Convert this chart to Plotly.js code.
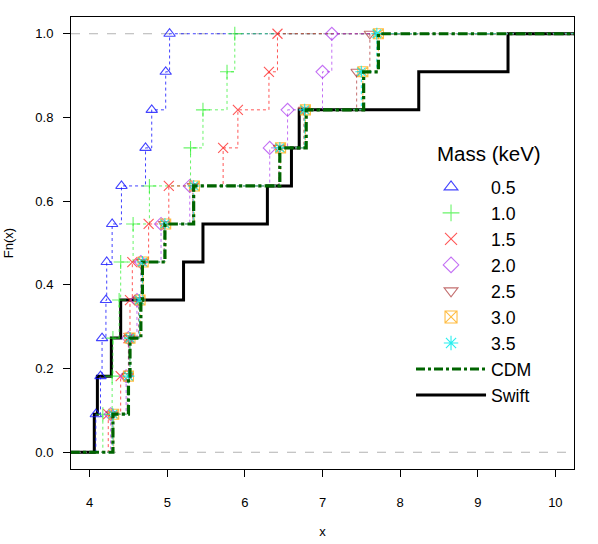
<!DOCTYPE html>
<html>
<head>
<meta charset="utf-8">
<script src="https://cdn.plot.ly/plotly-3.0.1.min.js"></script>
<style>html,body{margin:0;padding:0;background:#fff;}#chart{width:598px;height:544px;}</style>
</head>
<body>
<div id="chart"></div>
<script>
// ---- data (sample values) ----
const massLabels = ["0.5", "1.0", "1.5", "2.0", "2.5", "3.0", "3.5"];
const mass05 = [4.08, 4.14, 4.16, 4.21, 4.22, 4.29, 4.41, 4.72, 4.80, 4.98, 5.03];
const mass10 = [4.17, 4.29, 4.30, 4.38, 4.40, 4.56, 4.77, 5.30, 5.46, 5.77, 5.87];
const mass15 = [4.24, 4.40, 4.50, 4.52, 4.55, 4.76, 5.02, 5.72, 5.91, 6.31, 6.42];
const mass20 = [4.27, 4.47, 4.50, 4.61, 4.66, 4.92, 5.29, 6.32, 6.55, 7.00, 7.12];
const mass25 = [4.29, 4.49, 4.51, 4.63, 4.68, 4.96, 5.33, 6.44, 6.76, 7.44, 7.61];
const mass30 = [4.31, 4.50, 4.52, 4.65, 4.69, 4.98, 5.35, 6.46, 6.78, 7.52, 7.72];
const mass35 = [4.30, 4.50, 4.52, 4.64, 4.68, 4.97, 5.34, 6.45, 6.77, 7.50, 7.70];
const cdm    = [4.30, 4.50, 4.52, 4.66, 4.68, 4.97, 5.34, 6.45, 6.79, 7.53, 7.72];
const swift  = [4.06, 4.10, 4.28, 4.40, 5.21, 5.46, 6.29, 6.60, 6.70, 8.24, 9.39];
const xTicks = [4, 5, 6, 7, 8, 9, 10];
const yTicks = [0, 0.2, 0.4, 0.6, 0.8, 1.0];
const legendTitle = "Mass (keV)";

// ---- styles ----
const massSeries = [mass05, mass10, mass15, mass20, mass25, mass30, mass35];
const massColors = ["rgba(20,20,255,0.8)", "rgba(40,240,40,0.7)", "rgba(255,30,30,0.75)",
                    "rgba(170,50,240,0.7)", "rgba(170,50,50,0.7)", "rgba(255,165,0,0.75)", "rgba(0,235,235,0.85)"];
const massSymbols = ["triangle-up-open", "cross-thin-open", "x-thin-open", "diamond-open",
                     "triangle-down-open", "square-x-open", "asterisk-open"];
const xRange = [3.76, 10.24];
const yRange = [-0.04, 1.04];

function ecdf(xs) {
  const s = xs.slice().sort((a, b) => a - b);
  const n = s.length;
  const fy = s.map((_, i) => (i + 1) / n);
  const sx = [xRange[0] - 1].concat(s, [xRange[1] + 1]);
  const sy = [0].concat(fy, [1]);
  return {px: s, py: fy, sx: sx, sy: sy};
}

const traces = [];
(function () {
  const e = ecdf(swift);
  traces.push({x: e.sx, y: e.sy, mode: "lines", line: {shape: "hv", color: "#000", width: 3},
               showlegend: false, hoverinfo: "skip"});
})();
massSeries.forEach((xs, i) => {
  const e = ecdf(xs);
  traces.push({x: e.sx, y: e.sy, mode: "lines",
               line: {shape: "hv", color: massColors[i], width: 1, dash: "dot"},
               showlegend: false, hoverinfo: "skip"});
  traces.push({x: e.px, y: e.py, mode: "markers",
               marker: {symbol: massSymbols[i], size: 10, color: massColors[i], line: {color: massColors[i], width: 1.1}},
               showlegend: false, hoverinfo: "skip"});
});
(function () {
  const e = ecdf(cdm);
  traces.push({x: e.sx, y: e.sy, mode: "lines", line: {shape: "hv", color: "#006400", width: 3.2, dash: "dashdot"},
               showlegend: false, hoverinfo: "skip"});
})();
massLabels.forEach((lab, i) => {
  traces.push({x: [null], y: [null], mode: "markers", name: lab,
               marker: {symbol: massSymbols[i], size: 12, color: massColors[i], line: {color: massColors[i], width: 1.1}}});
});
traces.push({x: [null], y: [null], mode: "lines", name: "CDM", line: {color: "#006400", width: 3, dash: "dashdot"}});
traces.push({x: [null], y: [null], mode: "lines", name: "Swift", line: {color: "#000", width: 3}});

const font = "Liberation Sans, Arial, Helvetica, sans-serif";
const layout = {
  width: 598, height: 544,
  margin: {l: 71, r: 24, t: 17, b: 75},
  paper_bgcolor: "#fff", plot_bgcolor: "#fff",
  font: {family: font, size: 13, color: "#000"},
  showlegend: true,
  legend: {x: 0.676, y: 0.664, xanchor: "left", yanchor: "top", bgcolor: "rgba(0,0,0,0)",
           font: {size: 17.7, family: font}, itemwidth: 70},
  annotations: [{text: legendTitle, xref: "paper", yref: "paper", x: 0.724, y: 0.699,
                 xanchor: "left", yanchor: "middle", showarrow: false, font: {size: 20.5, family: font}}],
  xaxis: {range: xRange, tickvals: xTicks, ticktext: xTicks.map(String), ticks: "outside", ticklen: 7,
          tickcolor: "#000", showline: true, mirror: true, linecolor: "#000", linewidth: 1,
          showgrid: false, zeroline: false, ticklabelstandoff: 14,
          title: {text: "x", font: {size: 13}, standoff: 18}},
  yaxis: {range: yRange, tickvals: yTicks, ticktext: yTicks.map(v => v.toFixed(1)), ticks: "outside", ticklen: 7,
          tickcolor: "#000", showline: true, mirror: true, linecolor: "#000", linewidth: 1,
          showgrid: false, zeroline: false, ticklabelstandoff: 7,
          title: {text: "Fn(x)", font: {size: 13}, standoff: 18}},
  shapes: [0, 1].map(v => ({type: "line", xref: "paper", x0: 0, x1: 1, yref: "y", y0: v, y1: v,
                            line: {color: "#B3B3B3", width: 1, dash: "dash"}, layer: "below"}))
};
Plotly.newPlot("chart", traces, layout, {displayModeBar: false, staticPlot: true});
</script>
</body>
</html>
